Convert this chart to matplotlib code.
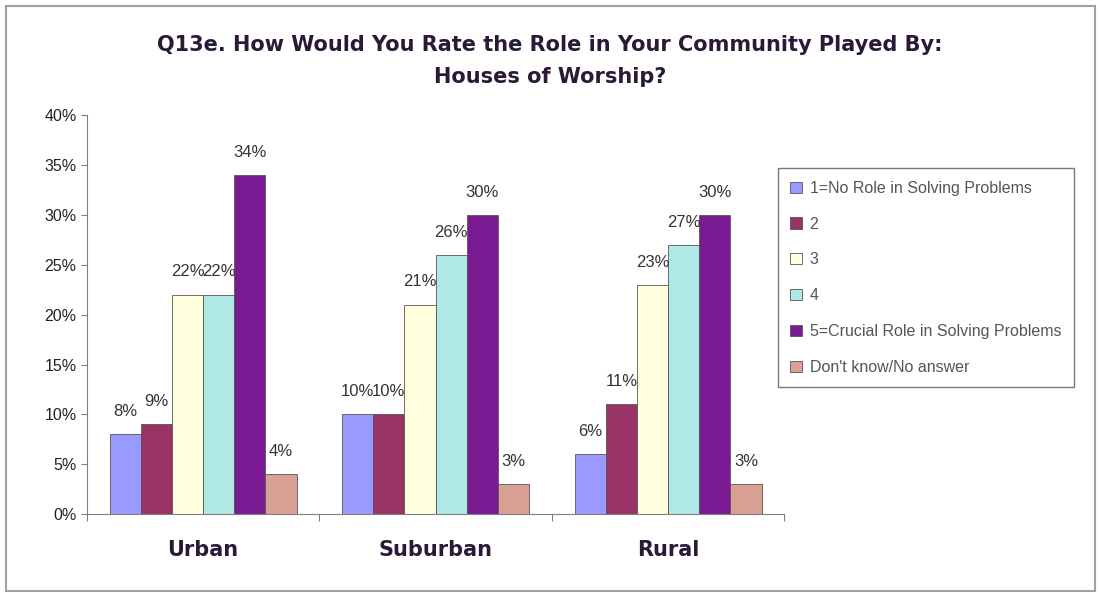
import matplotlib
matplotlib.use("Agg")
import matplotlib.pyplot as plt
from matplotlib.patches import Rectangle
import numpy as np

plt.rcParams['font.family'] = ['Liberation Sans', 'DejaVu Sans']

categories = ["Urban", "Suburban", "Rural"]
series_names = ["1=No Role in Solving Problems", "2", "3", "4",
                "5=Crucial Role in Solving Problems", "Don't know/No answer"]
values = {
    "1=No Role in Solving Problems": [8, 10, 6],
    "2": [9, 10, 11],
    "3": [22, 21, 23],
    "4": [22, 26, 27],
    "5=Crucial Role in Solving Problems": [34, 30, 30],
    "Don't know/No answer": [4, 3, 3],
}
colors = ["#9999FF", "#993366", "#FFFFDD", "#B0E8E8", "#7A1A92", "#D9A094"]
yticks = [0, 5, 10, 15, 20, 25, 30, 35, 40]
ytick_labels = [f"{t}%" for t in yticks]

title_color = "#2A1A38"

fig = plt.figure(figsize=(11, 5.94), dpi=100)
fig.patches.append(Rectangle((0.005, 0.005), 0.99, 0.985, transform=fig.transFigure,
                             fill=False, edgecolor="#A0A0A0", linewidth=1.5))
ax = fig.add_axes([0.079, 0.1347, 0.634, 0.671])

x = np.arange(len(categories))
w = 0.134
n = len(series_names)
for i, name in enumerate(series_names):
    xs = x + (i - (n - 1) / 2) * w
    ax.bar(xs, values[name], width=w, color=colors[i], edgecolor="#555555",
           linewidth=0.6, label=name)
    for xi, v in zip(xs, values[name]):
        ax.annotate(f"{v}%", (xi, v), xytext=(0, 11), textcoords="offset points",
                    ha="center", va="bottom", fontsize=12, color="#333333")

ax.set_xlim(-0.5, 2.5)
ax.set_ylim(0, 40)
ax.set_yticks(yticks)
ax.set_yticklabels(ytick_labels, fontsize=11.5, color="#222222")
ax.set_xticks([-0.5, 0.5, 1.5, 2.5])
ax.set_xticklabels([])
ax.tick_params(axis="x", direction="out", length=5, color="#808080")
ax.tick_params(axis="y", direction="out", length=4, color="#808080")
for c_i, c in enumerate(categories):
    ax.text(c_i, -3.6, c, ha="center", va="center", fontsize=15, fontweight="bold",
            color=title_color, family=["DejaVu Sans"])
for s in ["top", "right"]:
    ax.spines[s].set_visible(False)
for s in ["left", "bottom"]:
    ax.spines[s].set_color("#808080")

fig.text(0.5, 0.924, "Q13e. How Would You Rate the Role in Your Community Played By:",
         ha="center", va="center", fontsize=15, fontweight="bold", color=title_color,
         family=["DejaVu Sans"])
fig.text(0.5, 0.870, "Houses of Worship?", ha="center", va="center",
         fontsize=15, fontweight="bold", color=title_color, family=["DejaVu Sans"])

leg = fig.legend(loc="upper left", bbox_to_anchor=(0.707, 0.717), fontsize=11.5,
                 frameon=True, fancybox=False, edgecolor="#555555",
                 handlelength=0.7, handleheight=0.7, labelspacing=1.3,
                 borderpad=0.8, handletextpad=0.5, labelcolor="#555555",
                 borderaxespad=0)
leg.get_frame().set_linewidth(1.0)

fig.savefig("out.png", dpi=100)
